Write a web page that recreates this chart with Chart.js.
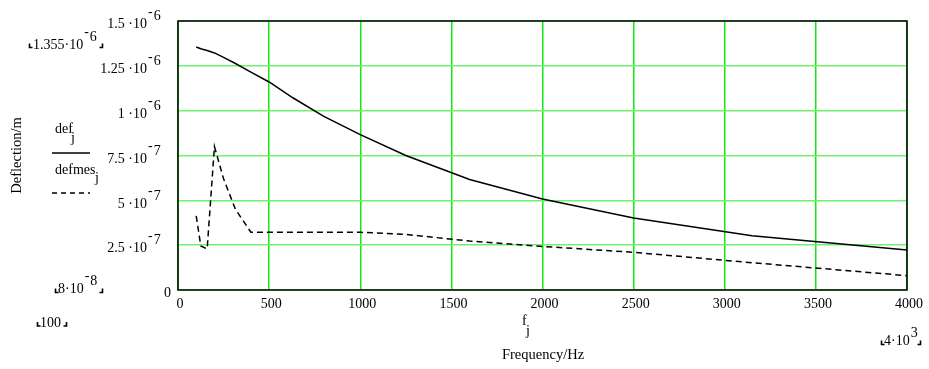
<!DOCTYPE html>
<html>
<head>
<meta charset="utf-8">
<script src="https://cdn.jsdelivr.net/npm/chart.js@4.4.1/dist/chart.umd.min.js"></script>
<style>
  html, body { margin: 0; padding: 0; background: #fff; }
  #plot { display: block; }
</style>
</head>
<body>
<canvas id="plot" width="929" height="369" style="width:929px;height:369px"></canvas>
<script>
// One-third-octave band centre frequencies (Hz)
const freqHz = [100, 125, 160, 200, 250, 315, 400, 500, 630, 800, 1000, 1250, 1600, 2000, 2500, 3150, 4000];

// Calculated deflection def_j (m)
const defCalc = [1.355e-6, 1.345e-6, 1.335e-6, 1.322e-6, 1.297e-6, 1.263e-6, 1.215e-6, 1.16e-6, 1.072e-6,
                 0.968e-6, 0.866e-6, 0.75e-6, 0.616e-6, 0.507e-6, 0.402e-6, 0.303e-6, 0.223e-6];

// Measured deflection defmes_j (m)
const defMeas = [0.413e-6, 0.246e-6, 0.229e-6, 0.80e-6, 0.62e-6, 0.45e-6, 0.322e-6, 0.322e-6, 0.322e-6,
                 0.322e-6, 0.322e-6, 0.31e-6, 0.273e-6, 0.243e-6, 0.21e-6, 0.152e-6, 0.08e-6];

// Axis ticks
const xTickValues = [0, 500, 1000, 1500, 2000, 2500, 3000, 3500, 4000];
const xTickLabels = ['0', '500', '1000', '1500', '2000', '2500', '3000', '3500', '4000'];
const yTickValues = [0, 2.5e-7, 5e-7, 7.5e-7, 1e-6, 1.25e-6, 1.5e-6];
const yTickMantissa = ['0', '2.5 \u00b710', '5 \u00b710', '7.5 \u00b710', '1 \u00b710', '1.25 \u00b710', '1.5 \u00b710'];
const yTickExponent = ['', '-7', '-7', '-7', '-6', '-6', '-6'];

const FONT = '14px "Liberation Serif", "Times New Roman", serif';
const TITLE_FONT = '14.5px "Liberation Serif", "Times New Roman", serif';
const GRID_X = 'rgb(20,232,20)';
const GRID_Y = 'rgb(110,242,110)';

// Text with a same-size raised exponent, the minus sitting at the top of the digits
function drawPow(ctx, mant, exp, x, baseline) {
  ctx.textAlign = 'left';
  ctx.textBaseline = 'alphabetic';
  ctx.fillText(mant, x, baseline);
  let cx = x + ctx.measureText(mant).width + 1;
  const eb = baseline - 8;
  if (exp.startsWith('-')) {
    ctx.fillText('-', cx, eb - 4.5);
    cx += ctx.measureText('-').width + 1;
    exp = exp.slice(1);
  }
  ctx.fillText(exp, cx, eb);
  return cx + ctx.measureText(exp).width;
}

// Small corner marks around the range readouts
function corners(ctx, xl, xr, yb) {
  ctx.save();
  ctx.strokeStyle = '#000';
  ctx.lineWidth = 1.6;
  ctx.beginPath();
  ctx.moveTo(xl, yb - 4); ctx.lineTo(xl, yb); ctx.lineTo(xl + 3, yb);
  ctx.moveTo(xr, yb - 4); ctx.lineTo(xr, yb); ctx.lineTo(xr - 3, yb);
  ctx.stroke();
  ctx.restore();
}

const annotations = {
  id: 'annotations',
  afterDraw(chart) {
    const ctx = chart.ctx;
    const a = chart.chartArea;
    const xs = chart.scales.x, ys = chart.scales.y;
    ctx.save();

    // frame
    ctx.strokeStyle = '#000';
    ctx.lineWidth = 1.5;
    ctx.strokeRect(a.left, a.top, a.right - a.left, a.bottom - a.top);

    ctx.fillStyle = '#000';
    ctx.font = FONT;

    // y tick labels
    yTickValues.forEach((v, i) => {
      const py = ys.getPixelForValue(v);
      if (!yTickExponent[i]) {
        ctx.textAlign = 'right';
        ctx.textBaseline = 'alphabetic';
        ctx.fillText(yTickMantissa[i], 171, py + 7);
      } else {
        const w = ctx.measureText(yTickMantissa[i]).width;
        drawPow(ctx, yTickMantissa[i], yTickExponent[i], 147 - w, py + 7.3);
      }
    });

    // x tick labels
    ctx.textAlign = 'center';
    ctx.textBaseline = 'alphabetic';
    xTickValues.forEach((v, i) => {
      ctx.fillText(xTickLabels[i], xs.getPixelForValue(v) + 2, 307.5);
    });

    // range readouts
    drawPow(ctx, '1.355\u00b710', '-6', 33, 48.5);
    corners(ctx, 29.5, 102.5, 47.5);
    drawPow(ctx, '8\u00b710', '-8', 58, 292.6);
    corners(ctx, 55.5, 102.5, 292.5);
    ctx.textAlign = 'left';
    ctx.fillText('100', 40, 326.5);
    corners(ctx, 37.5, 66.5, 326);
    drawPow(ctx, '4\u00b710', '3', 884, 344.5);
    corners(ctx, 881.5, 920.5, 344.5);

    // x-axis expression and title
    ctx.textAlign = 'left';
    ctx.fillText('f', 522, 325);
    ctx.fillText('j', 526, 335);
    ctx.font = TITLE_FONT;
    ctx.textAlign = 'center';
    ctx.fillText('Frequency/Hz', 543, 358.5);

    // y-axis title
    ctx.save();
    ctx.translate(20.5, (a.top + a.bottom) / 2);
    ctx.rotate(-Math.PI / 2);
    ctx.textAlign = 'center';
    ctx.fillText('Deflection/m', 0, 0);
    ctx.restore();
    ctx.font = FONT;

    // legend
    ctx.textAlign = 'left';
    ctx.fillText('def', 55, 132.5);
    ctx.fillText('j', 71, 142);
    ctx.beginPath();
    ctx.lineWidth = 1.5;
    ctx.moveTo(52, 153); ctx.lineTo(90, 153);
    ctx.stroke();
    ctx.fillText('defmes', 55, 173.5);
    ctx.fillText('j', 95, 182);
    ctx.beginPath();
    ctx.setLineDash([5, 4]);
    ctx.moveTo(52, 193); ctx.lineTo(90, 193);
    ctx.stroke();
    ctx.setLineDash([]);

    ctx.restore();
  }
};

new Chart(document.getElementById('plot').getContext('2d'), {
  type: 'line',
  data: {
    datasets: [
      {
        label: 'def',
        data: freqHz.map((f, i) => ({ x: f, y: defCalc[i] })),
        borderColor: '#000',
        borderWidth: 1.5,
        pointRadius: 0,
        tension: 0,
        fill: false
      },
      {
        label: 'defmes',
        data: freqHz.map((f, i) => ({ x: f, y: defMeas[i] })),
        borderColor: '#000',
        borderWidth: 1.5,
        borderDash: [6, 4],
        pointRadius: 0,
        tension: 0,
        fill: false
      }
    ]
  },
  options: {
    responsive: false,
    animation: false,
    devicePixelRatio: 1,
    layout: { padding: { top: 21, right: 22, left: 0, bottom: 0 } },
    plugins: { legend: { display: false }, tooltip: { enabled: false } },
    scales: {
      x: {
        type: 'linear',
        min: 0, max: 4000,
        ticks: { display: false, stepSize: 500 },
        grid: { color: GRID_X, lineWidth: 1.5, drawTicks: false },
        border: { display: false },
        afterFit(s) { s.height = 79; }
      },
      y: {
        type: 'linear',
        min: 0, max: 1.5e-6,
        ticks: { display: false, stepSize: 2.5e-7 },
        grid: { color: GRID_Y, lineWidth: 1.6, drawTicks: false },
        border: { display: false },
        afterFit(s) { s.width = 178; }
      }
    }
  },
  plugins: [annotations]
});
</script>
</body>
</html>
